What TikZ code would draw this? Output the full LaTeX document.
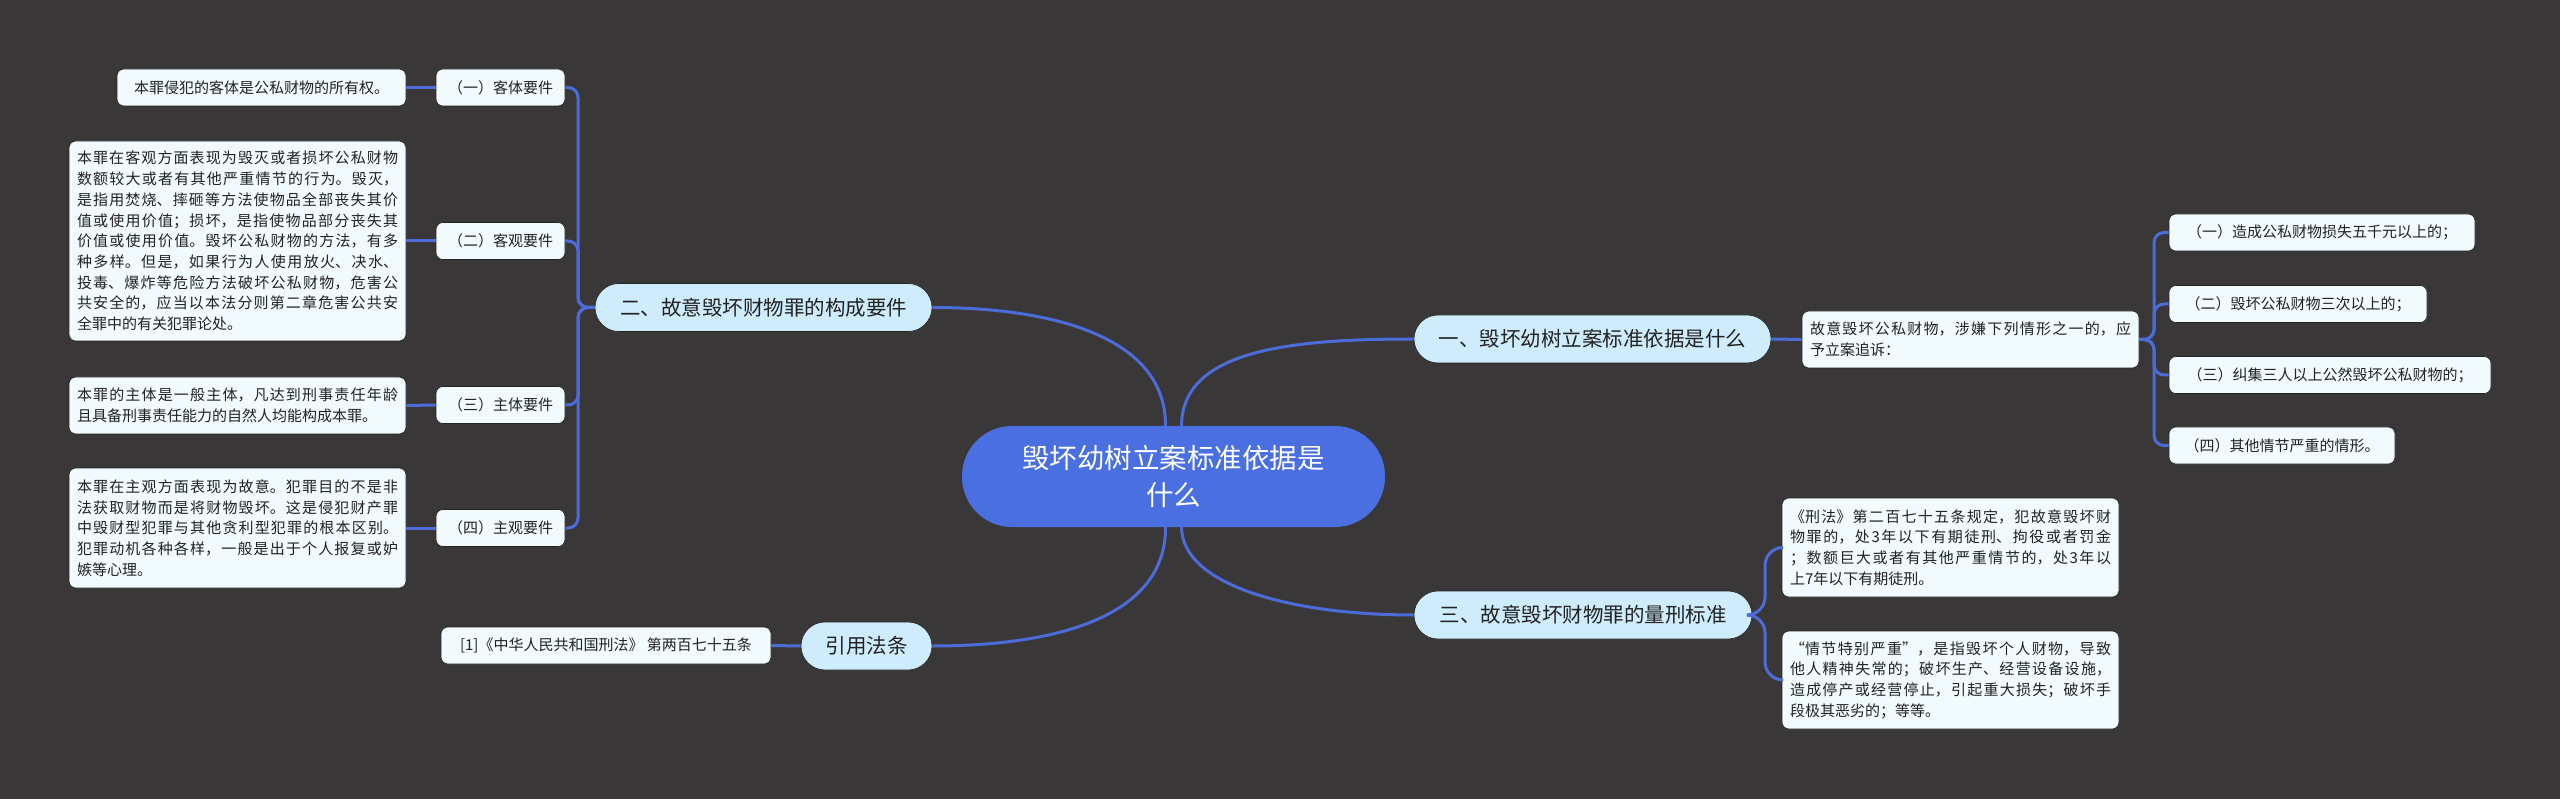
\documentclass[tikz,border=0pt]{standalone}
\usepackage{fontspec}
\setmainfont{Noto Sans CJK SC}
\XeTeXlinebreaklocale "zh"
\XeTeXlinebreakskip=0pt plus 6pt
\definecolor{bg}{RGB}{57,55,56}
\definecolor{linec}{RGB}{76,108,218}
\definecolor{cenfill}{RGB}{74,111,224}
\definecolor{brfill}{RGB}{206,236,251}
\definecolor{leaffill}{RGB}{241,250,253}
\definecolor{txt}{RGB}{34,34,34}
\definecolor{bordc}{RGB}{35,35,35}
\tikzset{
  conn/.style={draw=linec, line width=3pt},
  leaf/.style={fill=leaffill, rounded corners=7pt, text=txt, font=\fontsize{15}{20.7}\selectfont, inner sep=0pt, draw=bordc, line width=0.6pt},
  para/.style={leaf, align=justify, text width=321pt, inner xsep=8pt, inner ysep=0pt},
  branch/.style={fill=brfill, rounded corners=24pt, text=txt, font=\fontsize{20.5}{24}\selectfont, inner sep=0pt, minimum height=48pt, draw=bordc, line width=0.6pt},
}
\begin{document}
\begin{tikzpicture}[x=1pt,y=-1pt]
\path[use as bounding box, fill=bg] (0,0) rectangle (2560,799);

% central
\node[fill=cenfill, rounded corners=50pt, minimum width=423pt, minimum height=101pt, inner sep=0pt, text=white, align=center, font=\fontsize{27.5}{37}\selectfont] (cen) at (1173.5,476.5) {毁坏幼树立案标准依据是\\什么};

% branches
\node[branch, minimum width=337pt] (b2) at (763.5,307.5) {二、故意毁坏财物罪的构成要件};
\node[branch, minimum width=131pt] (ref) at (866.5,646) {引用法条};
\node[branch, minimum width=357pt] (b1) at (1592.5,339) {一、毁坏幼树立案标准依据是什么};
\node[branch, minimum width=338pt] (b3) at (1583,615) {三、故意毁坏财物罪的量刑标准};

% left children
\node[leaf, minimum width=129pt, minimum height=37pt] (c1) at (500.5,87.5) {（一）客体要件};
\node[leaf, minimum width=129pt, minimum height=37pt] (c2) at (500.5,241) {（二）客观要件};
\node[leaf, minimum width=129pt, minimum height=37pt] (c3) at (500.5,405) {（三）主体要件};
\node[leaf, minimum width=129pt, minimum height=37pt] (c4) at (500.5,528) {（四）主观要件};

\node[leaf, minimum width=289pt, minimum height=37pt] (k1) at (261.5,87.5) {本罪侵犯的客体是公私财物的所有权。};
\node[para, minimum height=200pt] (k2) at (237.5,241) {本罪在客观方面表现为毁灭或者损坏公私财物\linebreak
数额较大或者有其他严重情节的行为。毁灭，\linebreak
是指用焚烧、摔砸等方法使物品全部丧失其价\linebreak
值或使用价值；损坏，是指使物品部分丧失其\linebreak
价值或使用价值。毁坏公私财物的方法，有多\linebreak
种多样。但是，如果行为人使用放火、决水、\linebreak
投毒、爆炸等危险方法破坏公私财物，危害公\linebreak
共安全的，应当以本法分则第二章危害公共安\linebreak
全罪中的有关犯罪论处。};
\node[para, minimum height=57pt] (k3) at (237.5,405.5) {本罪的主体是一般主体，凡达到刑事责任年龄\linebreak
且具备刑事责任能力的自然人均能构成本罪。};
\node[para, minimum height=120pt] (k4) at (237.5,528) {本罪在主观方面表现为故意。犯罪目的不是非\linebreak
法获取财物而是将财物毁坏。这是侵犯财产罪\linebreak
中毁财型犯罪与其他贪利型犯罪的根本区别。\linebreak
犯罪动机各种各样，一般是出于个人报复或妒\linebreak
嫉等心理。};

\node[leaf, minimum width=330pt, minimum height=37pt] (rt) at (606,645.5) {[1]《中华人民共和国刑法》 第两百七十五条};

% right side
\node[para, minimum height=57pt] (b1t) at (1970.5,339.5) {故意毁坏公私财物，涉嫌下列情形之一的，应\linebreak
予立案追诉：};
\node[leaf, minimum width=306pt, minimum height=37pt] (i1) at (2322,232.5) {（一）造成公私财物损失五千元以上的；};
\node[leaf, minimum width=258pt, minimum height=37pt] (i2) at (2298,304) {（二）毁坏公私财物三次以上的；};
\node[leaf, minimum width=322pt, minimum height=37pt] (i3) at (2330,375) {（三）纠集三人以上公然毁坏公私财物的；};
\node[leaf, minimum width=226pt, minimum height=37pt] (i4) at (2282,445.5) {（四）其他情节严重的情形。};

\node[para, minimum height=99pt] (bA) at (1950.5,547.5) {《刑法》第二百七十五条规定，犯故意毁坏财\linebreak
物罪的，处3年以下有期徒刑、拘役或者罚金\linebreak
；数额巨大或者有其他严重情节的，处3年以\linebreak
上7年以下有期徒刑。};
\node[para, minimum height=98pt] (bB) at (1950.5,680) {“情节特别严重”，是指毁坏个人财物，导致\linebreak
他人精神失常的；破坏生产、经营设备设施，\linebreak
造成停产或经营停止，引起重大损失；破坏手\linebreak
段极其恶劣的；等等。};

% central connectors
\draw[conn] ([xshift=-8pt]cen.north) .. controls (1166,340) and (1060,307.5) .. (b2.east);
\draw[conn] ([xshift=8pt]cen.north) .. controls (1182,350) and (1290,339) .. (b1.west);
\draw[conn] ([xshift=-8pt]cen.south) .. controls (1166,615) and (1060,646) .. (ref.east);
\draw[conn] ([xshift=8pt]cen.south) .. controls (1182,585) and (1290,615) .. (b3.west);

% left brackets
\draw[conn, rounded corners=10pt] (b2.west) -- (578,307.5) |- (c1.east);
\draw[conn, rounded corners=10pt] (b2.west) -- (578,307.5) |- (c2.east);
\draw[conn, rounded corners=10pt] (b2.west) -- (578,307.5) |- (c3.east);
\draw[conn, rounded corners=10pt] (b2.west) -- (578,307.5) |- (c4.east);
\draw[conn] (k1.east) -- (c1.west);
\draw[conn] (k2.east) -- (c2.west);
\draw[conn] (k3.east) -- (c3.west);
\draw[conn] (k4.east) -- (c4.west);
\draw[conn] (rt.east) -- (ref.west);

% right
\draw[conn] (b1.east) -- (b1t.west);
\draw[conn, rounded corners=10pt] (b1t.east) -- (2154,339.5) |- (i1.west);
\draw[conn, rounded corners=10pt] (b1t.east) -- (2154,339.5) |- (i2.west);
\draw[conn, rounded corners=10pt] (b1t.east) -- (2154,339.5) |- (i3.west);
\draw[conn, rounded corners=10pt] (b1t.east) -- (2154,339.5) |- (i4.west);
\draw[conn, rounded corners=18pt] (b3.east) -- (1765,615) |- (bA.west);
\draw[conn, rounded corners=18pt] (b3.east) -- (1765,615) |- (bB.west);
\end{tikzpicture}
\end{document}
